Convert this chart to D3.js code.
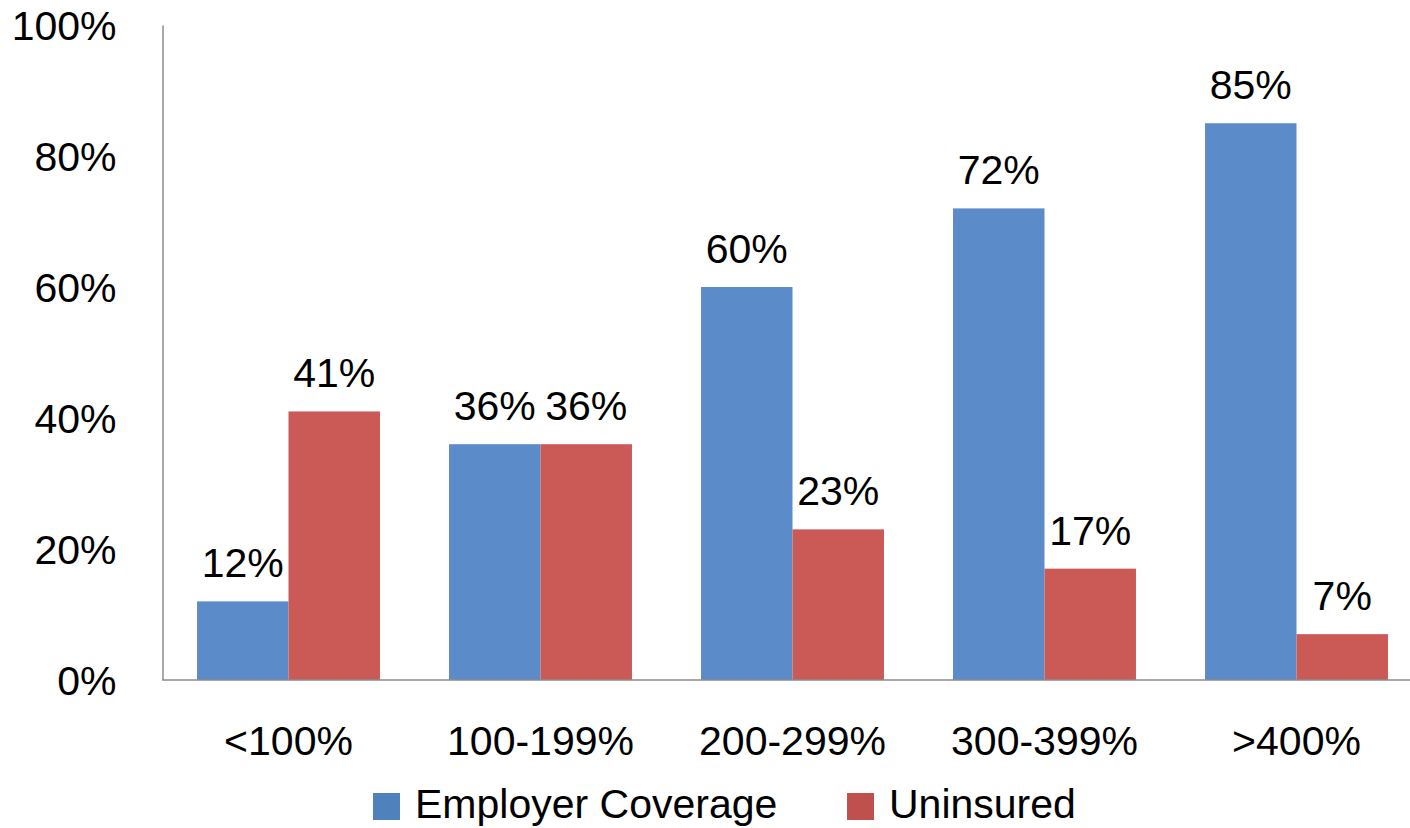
<!DOCTYPE html>
<html>
<head>
<meta charset="utf-8">
<script src="https://cdn.jsdelivr.net/npm/d3@7/dist/d3.min.js"></script>
<style>
  html, body { margin: 0; padding: 0; background: #ffffff; }
  svg { display: block; }
  text { font-family: "Liberation Sans", Arial, sans-serif; fill: #000; }
</style>
</head>
<body>
<svg id="chart" width="1410" height="828"></svg>
<script>
// Income bands (% of federal poverty level)
const categories = ["<100%", "100-199%", "200-299%", "300-399%", ">400%"];
// Share of people in each band
const employerCoverage = [0.12, 0.36, 0.60, 0.72, 0.85];
const uninsured = [0.41, 0.36, 0.23, 0.17, 0.07];
const seriesNames = ["Employer Coverage", "Uninsured"];
const yTicks = [0, 0.2, 0.4, 0.6, 0.8, 1.0];

const barColors = ["#5B8BC8", "#CB5A57"];
const legendColors = ["#4F81BD", "#C0504D"];
const fontSize = 41;

const svg = d3.select("#chart");

const plot = { left: 162.5, right: 1422.5, top: 25, bottom: 680 };

const x = d3.scaleBand()
  .domain(categories)
  .range([plot.left, plot.right])
  .paddingInner(0.274)
  .paddingOuter(0.137);

const xSeries = d3.scaleBand()
  .domain(seriesNames)
  .range([0, x.bandwidth()]);

const y = d3.scaleLinear()
  .domain([0, 1])
  .range([plot.bottom, plot.top]);

const rows = categories.map((c, i) => ({
  category: c,
  values: [employerCoverage[i], uninsured[i]]
}));

// Bars
const groups = svg.append("g")
  .selectAll("g")
  .data(rows)
  .join("g")
  .attr("transform", d => `translate(${x(d.category)},0)`);

groups.selectAll("rect")
  .data(d => d.values.map((v, k) => ({ series: seriesNames[k], k, v })))
  .join("rect")
  .attr("x", d => xSeries(d.series))
  .attr("y", d => y(d.v))
  .attr("width", xSeries.bandwidth())
  .attr("height", d => y(0) - y(d.v))
  .attr("fill", d => barColors[d.k]);

// Value labels above each bar
groups.selectAll("text.value")
  .data(d => d.values.map((v, k) => ({ series: seriesNames[k], k, v })))
  .join("text")
  .attr("class", "value")
  .attr("x", d => xSeries(d.series) + xSeries.bandwidth() / 2)
  .attr("y", d => y(d.v) - 24)
  .attr("text-anchor", "middle")
  .style("font-size", fontSize + "px")
  .text(d => d3.format(".0%")(d.v));

// Y axis: line plus percentage labels, no tick marks
const yAxis = d3.axisLeft(y)
  .tickValues(yTicks)
  .tickFormat(d3.format(".0%"))
  .tickSize(0)
  .tickPadding(46);

const yg = svg.append("g")
  .attr("transform", `translate(${plot.left},0)`)
  .call(yAxis);
yg.select(".domain").attr("stroke", "#8c8c8c").attr("stroke-width", 1.5);
yg.selectAll(".tick text")
  .attr("font-family", null)
  .style("font-size", fontSize + "px")
  .attr("dy", "0.36em");

// X axis: baseline and category labels
const xAxis = d3.axisBottom(x).tickSize(0).tickPadding(0);
const xg = svg.append("g")
  .attr("transform", `translate(0,${plot.bottom})`)
  .call(xAxis);
xg.select(".domain").remove();
xg.append("line")
  .attr("x1", plot.left)
  .attr("x2", 1410)
  .attr("stroke", "#8c8c8c")
  .attr("stroke-width", 1.5);
xg.selectAll(".tick text")
  .attr("font-family", null)
  .attr("y", 75)
  .attr("dy", null)
  .style("font-size", fontSize + "px");

// Legend
const legendItems = [
  { name: seriesNames[0], color: legendColors[0], x: 373 },
  { name: seriesNames[1], color: legendColors[1], x: 847 }
];
const legend = svg.append("g");
const li = legend.selectAll("g")
  .data(legendItems)
  .join("g")
  .attr("transform", d => `translate(${d.x},793)`);
li.append("rect")
  .attr("width", 27)
  .attr("height", 27)
  .attr("fill", d => d.color);
li.append("text")
  .attr("x", 42)
  .attr("y", 25)
  .style("font-size", fontSize + "px")
  .text(d => d.name);
</script>
</body>
</html>
